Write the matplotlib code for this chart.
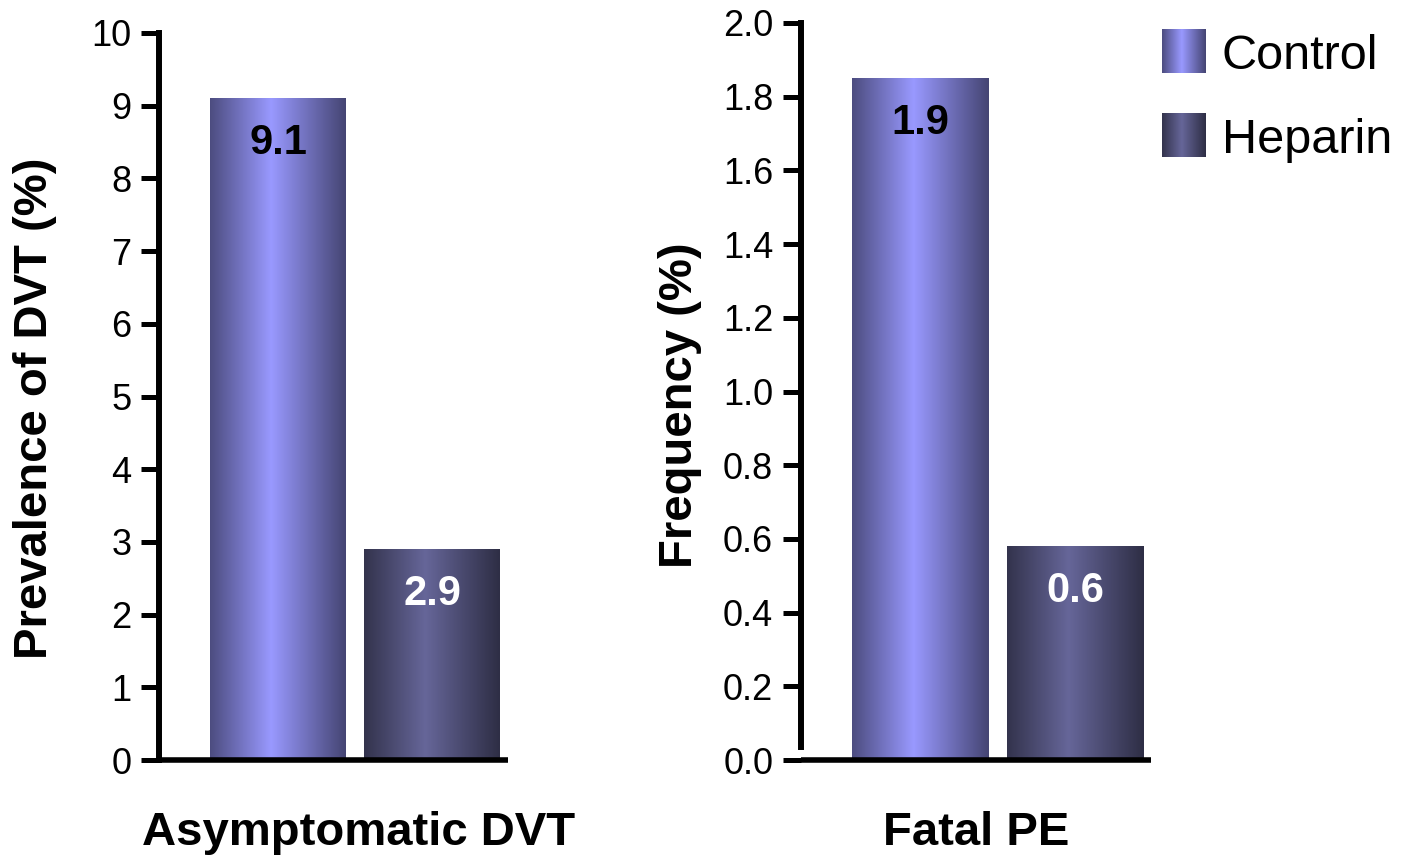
import matplotlib
matplotlib.use('Agg')
import matplotlib.pyplot as plt
import numpy as np
from matplotlib.colors import to_rgb

plt.rcParams['font.family'] = ['Liberation Sans', 'DejaVu Sans']

# ---- data ----
categories = ['Asymptomatic DVT', 'Fatal PE']
series = ['Control', 'Heparin']
dvt_values = [9.1, 2.9]
dvt_labels = ['9.1', '2.9']
pe_values = [1.85, 0.58]
pe_labels = ['1.9', '0.6']
dvt_ticks = [0, 1, 2, 3, 4, 5, 6, 7, 8, 9, 10]
dvt_ticklabels = ['0', '1', '2', '3', '4', '5', '6', '7', '8', '9', '10']
pe_ticks = [0.0, 0.2, 0.4, 0.6, 0.8, 1.0, 1.2, 1.4, 1.6, 1.8, 2.0]
pe_ticklabels = ['0.0', '0.2', '0.4', '0.6', '0.8', '1.0', '1.2', '1.4', '1.6', '1.8', '2.0']
ylabels = ['Prevalence of DVT (%)', 'Frequency (%)']
series_colors = ['#9999ff', '#666699']
label_colors = ['black', 'white']

W, H = 1401, 856


def gradient(center):
    t = np.linspace(0, 1, 256)
    f = np.interp(t, [0, 0.45, 1], [0.5, 1.0, 0.45])
    rgb = np.array(to_rgb(center))[None, :] * f[:, None]
    return np.clip(rgb[None, :, :], 0, 1)


fig = plt.figure(figsize=(W / 100, H / 100), dpi=100)
ax1 = fig.add_axes([159 / W, 1 - 760 / H, (508 - 159) / W, (760 - 33) / H])
ax2 = fig.add_axes([801 / W, 1 - 760 / H, (1151 - 801) / W, (760 - 23) / H])

panels = [
    (ax1, dvt_values, dvt_labels, dvt_ticks, dvt_ticklabels, 10),
    (ax2, pe_values, pe_labels, pe_ticks, pe_ticklabels, 2.0),
]

for ax, vals, lbls, ticks, tlbls, top in panels:
    xs = np.arange(len(vals))
    bars = ax.bar(xs, vals, width=0.88, color='none', edgecolor='none')
    for i, bar in enumerate(bars):
        x0, y0 = bar.get_xy()
        w, h = bar.get_width(), bar.get_height()
        ax.imshow(gradient(series_colors[i]), extent=[x0, x0 + w, y0, y0 + h],
                  aspect='auto', interpolation='bilinear', zorder=2)
        ax.annotate(lbls[i], (x0 + w / 2, y0 + h), xytext=(0, -32),
                    textcoords='offset points', ha='center', va='center',
                    fontsize=30, fontweight='bold', color=label_colors[i], zorder=3)
    ax.set_xlim(-0.770, 1.489)
    ax.set_ylim(0, top)
    ax.set_yticks(ticks)
    ax.set_yticklabels(tlbls)
    ax.set_xticks([])
    for s in ['top', 'right']:
        ax.spines[s].set_visible(False)
    ax.spines['left'].set_linewidth(4.3)
    ax.spines['bottom'].set_linewidth(4.0)
    ax.spines['bottom'].set_capstyle('butt')
    ax.tick_params(axis='y', direction='out', length=13, width=3.6,
                   labelsize=26, pad=7)
    ax.set_facecolor('none')

ax2.spines['left'].set_bounds(0.035, 2.0)

# axis titles
fig.text(35 / W, 1 - 408 / H, ylabels[0], rotation=90, ha='center', va='center',
         fontsize=34, fontweight='bold')
fig.text(680 / W, 1 - 405 / H, ylabels[1], rotation=90, ha='center', va='center',
         fontsize=34, fontweight='bold')
fig.text(359 / W, 1 - 845 / H, categories[0], ha='center', va='baseline',
         fontsize=34, fontweight='bold')
fig.text(976 / W, 1 - 845 / H, categories[1], ha='center', va='baseline',
         fontsize=34, fontweight='bold')

# legend
leg_tops = [29, 113]
leg_base = [69, 153]
for i, name in enumerate(series):
    lax = fig.add_axes([1162 / W, 1 - (leg_tops[i] + 44) / H, 44 / W, 44 / H])
    lax.imshow(gradient(series_colors[i]), aspect='auto', interpolation='bilinear')
    lax.axis('off')
    fig.text(1222 / W, 1 - leg_base[i] / H, name, ha='left', va='baseline',
             fontsize=35)

fig.savefig('out.png', dpi=100)
